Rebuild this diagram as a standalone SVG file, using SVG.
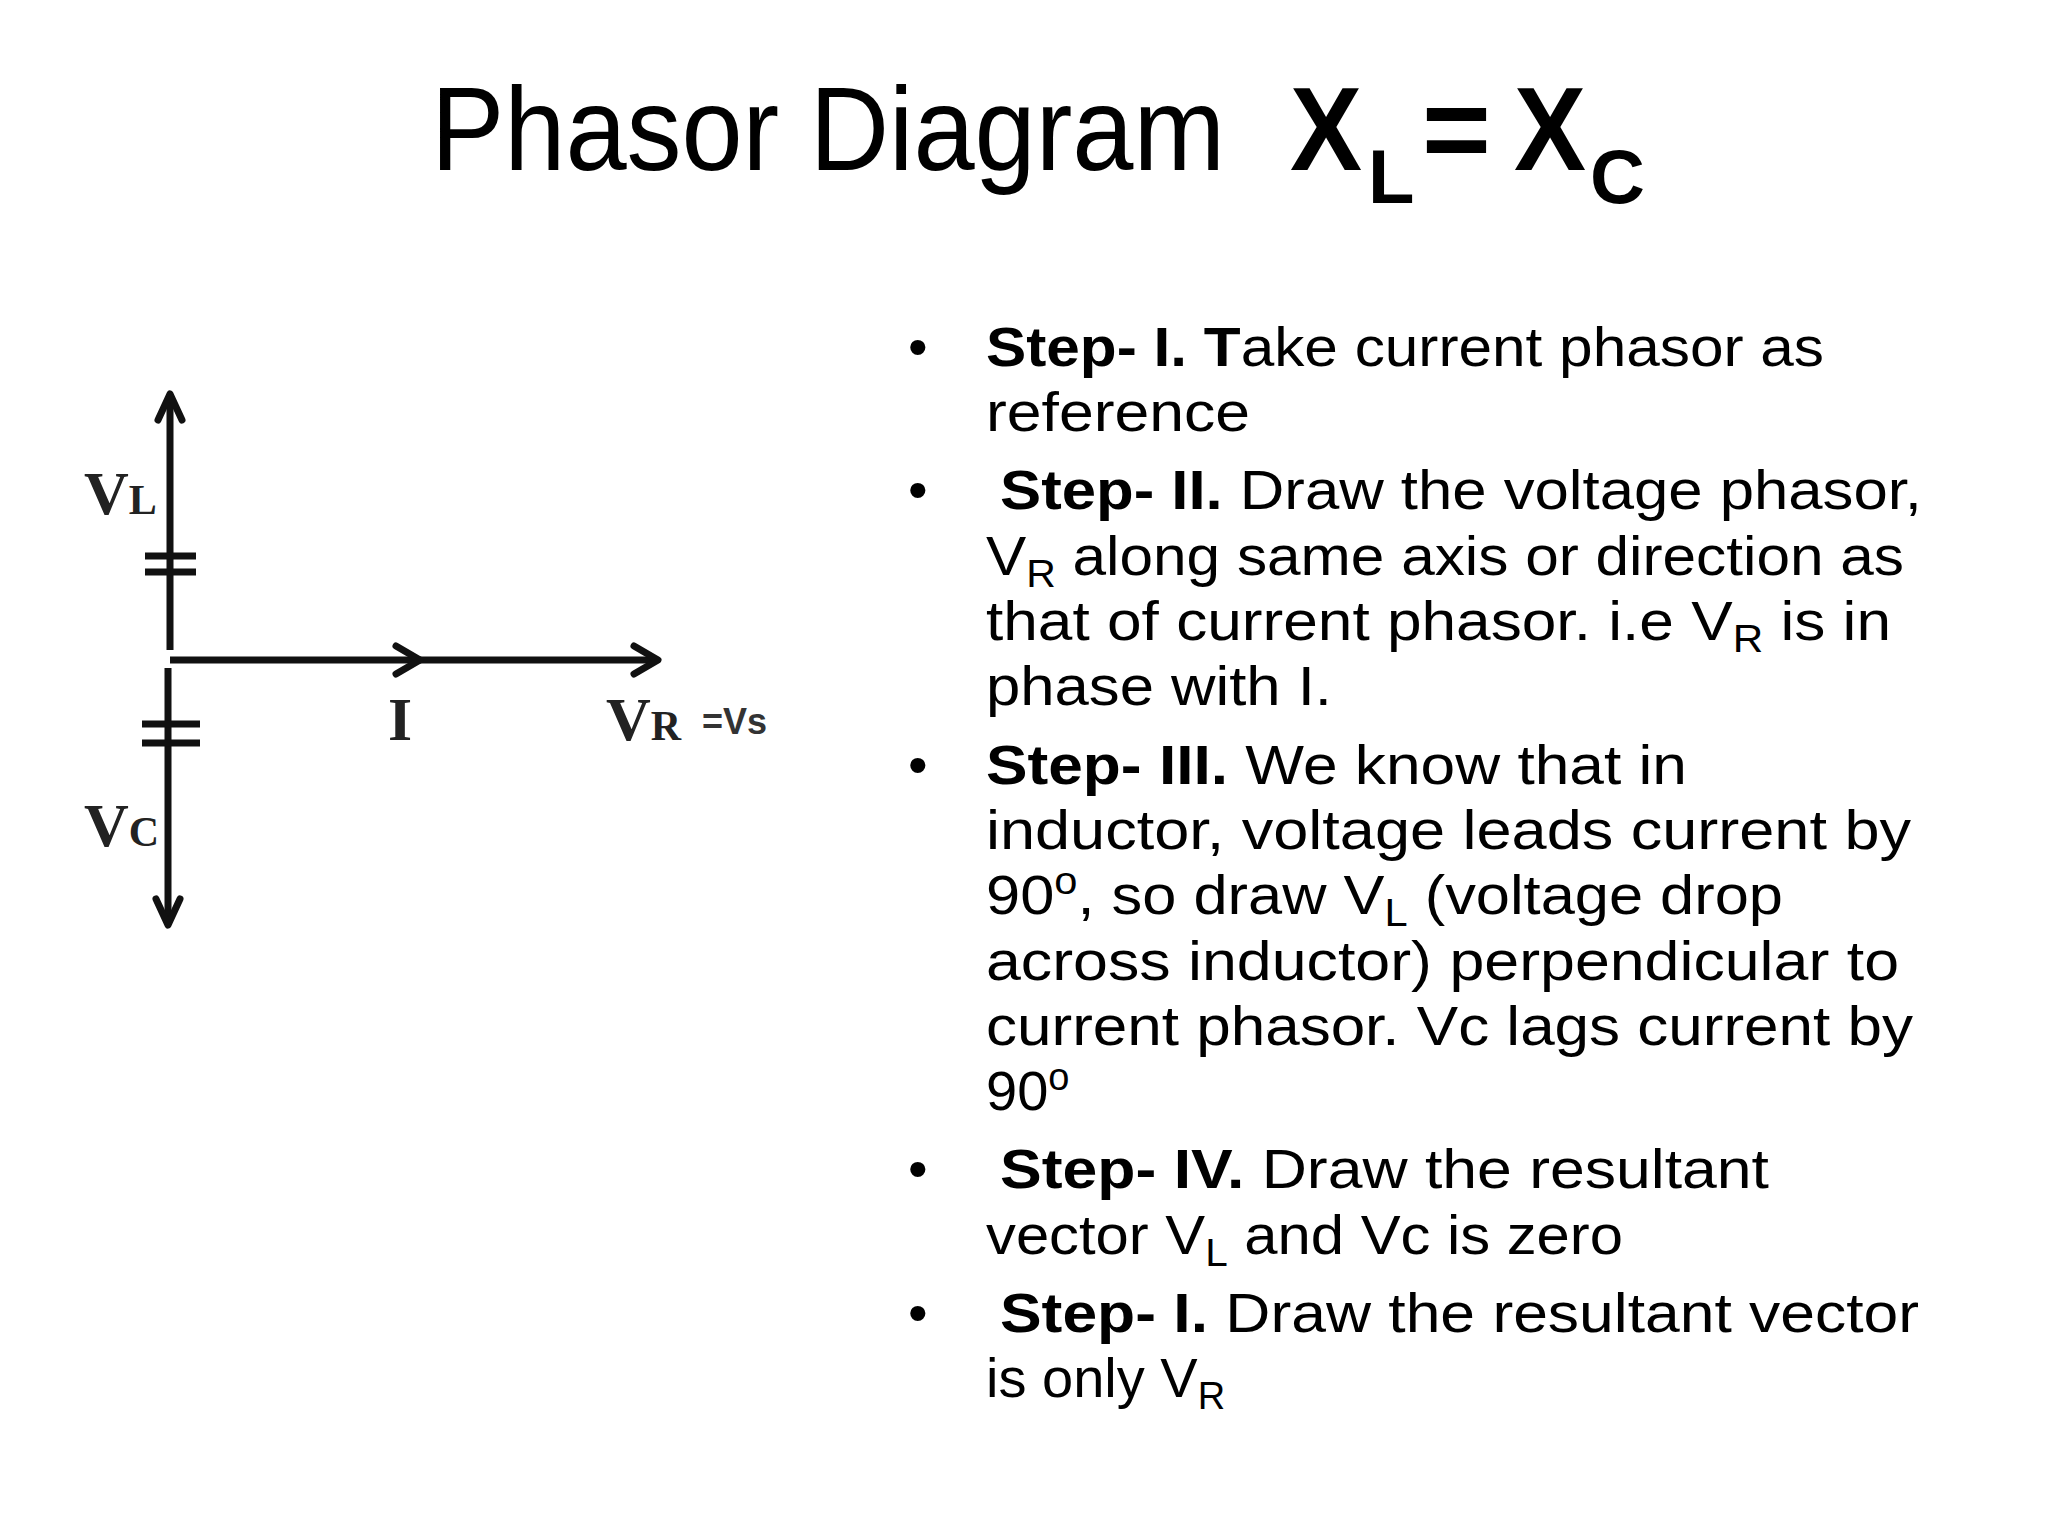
<svg xmlns="http://www.w3.org/2000/svg" width="2048" height="1536" viewBox="0 0 2048 1536">
<style>
.t{font-family:"Liberation Sans",Arial,sans-serif;font-size:56px;fill:#000}
.b{font-weight:bold}
.s{font-size:38px}
.tm{font-family:"Liberation Serif","Times New Roman",serif;font-weight:bold;fill:#222}
.ln{stroke:#111;stroke-width:7;fill:none}
.ah{stroke:#111;stroke-width:7;fill:none;stroke-linecap:round;stroke-linejoin:round}
</style>
<rect width="2048" height="1536" fill="#fff"/>
<g id="title">
<text class="t" x="431" y="170" style="font-size:118px" textLength="794" lengthAdjust="spacingAndGlyphs">Phasor Diagram</text>
<text class="t b" x="1290" y="170" style="font-size:118px" textLength="72" lengthAdjust="spacingAndGlyphs">X</text>
<text class="t b" x="1368" y="203" style="font-size:76px">L</text>
<text class="t b" x="1422" y="170" style="font-size:118px">=</text>
<text class="t b" x="1514" y="170" style="font-size:118px" textLength="72" lengthAdjust="spacingAndGlyphs">X</text>
<text class="t b" x="1590" y="203" style="font-size:76px">C</text>
</g>
<g id="connectors">
<line class="ln" x1="170" y1="394" x2="170" y2="650"/>
<polyline class="ah" points="158,420 170,394 182,420"/>
<line class="ln" x1="168" y1="668" x2="168" y2="925"/>
<polyline class="ah" points="156,899 168,925 180,899"/>
<line class="ln" x1="170" y1="660" x2="658" y2="660"/>
<polyline class="ah" points="396,646 420,660 396,674"/>
<polyline class="ah" points="634,646 658,660 634,674"/>
<line class="ln" x1="145" y1="556" x2="196" y2="556"/>
<line class="ln" x1="145" y1="572" x2="196" y2="572"/>
<line class="ln" x1="142" y1="724" x2="200" y2="724"/>
<line class="ln" x1="142" y1="743" x2="200" y2="743"/>
</g>
<g id="labels">
<text class="tm" x="84" y="514" font-size="62">V<tspan font-size="42">L</tspan></text>
<text class="tm" x="84" y="846" font-size="62">V<tspan font-size="42">C</tspan></text>
<text class="tm" x="388" y="740" font-size="62">I</text>
<text class="tm" x="606" y="740" font-size="62">V<tspan font-size="42">R</tspan></text>
<text class="t b" x="702" y="734" style="font-size:36px;fill:#333">=Vs</text>
</g>
<g id="steps">
<text class="t" x="908" y="366">•</text>
<text class="t" x="908" y="509">•</text>
<text class="t" x="908" y="784">•</text>
<text class="t" x="908" y="1188">•</text>
<text class="t" x="908" y="1332">•</text>
<text class="t" x="986" y="366" textLength="838" lengthAdjust="spacingAndGlyphs"><tspan class="b">Step- I. T</tspan>ake current phasor as</text>
<text class="t" x="986" y="431" textLength="264" lengthAdjust="spacingAndGlyphs">reference</text>
<text class="t" x="1000" y="509" textLength="922" lengthAdjust="spacingAndGlyphs"><tspan class="b">Step- II.</tspan> Draw the voltage phasor,</text>
<text class="t" x="986" y="575" textLength="918" lengthAdjust="spacingAndGlyphs">V<tspan class="s" dy="12">R</tspan><tspan dy="-12"> along same axis or direction as</tspan></text>
<text class="t" x="986" y="640" textLength="905" lengthAdjust="spacingAndGlyphs">that of current phasor. i.e V<tspan class="s" dy="12">R</tspan><tspan dy="-12"> is in</tspan></text>
<text class="t" x="986" y="705" textLength="346" lengthAdjust="spacingAndGlyphs">phase with I.</text>
<text class="t" x="986" y="784" textLength="701" lengthAdjust="spacingAndGlyphs"><tspan class="b">Step- III.</tspan> We know that in</text>
<text class="t" x="986" y="849" textLength="925" lengthAdjust="spacingAndGlyphs">inductor, voltage leads current by</text>
<text class="t" x="986" y="914" textLength="797" lengthAdjust="spacingAndGlyphs">90<tspan class="s" dy="-20">o</tspan><tspan dy="20">, so draw V</tspan><tspan class="s" dy="12">L</tspan><tspan dy="-12"> (voltage drop</tspan></text>
<text class="t" x="986" y="980" textLength="913" lengthAdjust="spacingAndGlyphs">across inductor) perpendicular to</text>
<text class="t" x="986" y="1045" textLength="927" lengthAdjust="spacingAndGlyphs">current phasor. Vc lags current by</text>
<text class="t" x="986" y="1110">90<tspan class="s" dy="-20">o</tspan></text>
<text class="t" x="1000" y="1188" textLength="769" lengthAdjust="spacingAndGlyphs"><tspan class="b">Step- IV.</tspan> Draw the resultant</text>
<text class="t" x="986" y="1254" textLength="637" lengthAdjust="spacingAndGlyphs">vector V<tspan class="s" dy="12">L</tspan><tspan dy="-12"> and Vc is zero</tspan></text>
<text class="t" x="1000" y="1332" textLength="919" lengthAdjust="spacingAndGlyphs"><tspan class="b">Step- I.</tspan> Draw the resultant vector</text>
<text class="t" x="986" y="1397">is only V<tspan class="s" dy="12">R</tspan></text>
</g>
</svg>
